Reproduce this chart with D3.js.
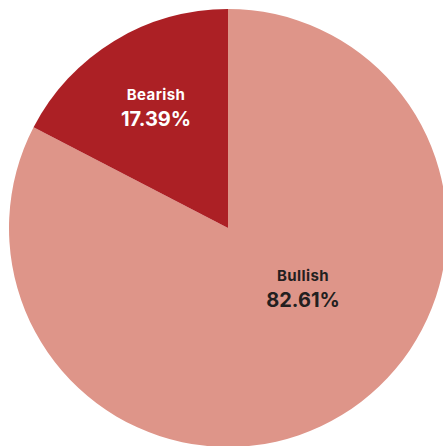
<!DOCTYPE html>
<html>
<head>
<meta charset="utf-8">
<script src="https://cdn.jsdelivr.net/npm/d3@7"></script>
<style>
  html, body { margin: 0; padding: 0; background: #fff; }
  svg { display: block; }
</style>
</head>
<body>
<svg id="chart" width="443" height="446"></svg>
<script>
// Sentiment split
const categories = ["Bullish", "Bearish"];
const values = [82.61, 17.39];
const colors = ["#DE9589", "#AC2025"];
const textColors = ["#231f20", "#ffffff"];

const svg = d3.select("#chart");
const cx = 228, cy = 228, radius = 219;

const pie = d3.pie().sort(null).value(d => d.value);
const arcs = pie(categories.map((c, i) => ({ name: c, value: values[i], i })));
const arc = d3.arc().innerRadius(0).outerRadius(radius);

const g = svg.append("g").attr("transform", `translate(${cx},${cy})`);

g.selectAll("path")
  .data(arcs)
  .join("path")
  .attr("d", arc)
  .attr("fill", d => colors[d.data.i]);

// label anchor offsets from the pie centre
const labelOffsets = [[75, 53], [-72, -128]];

const labels = g.selectAll("g.label")
  .data(arcs)
  .join("g")
  .attr("class", "label")
  .attr("transform", d => `translate(${labelOffsets[d.data.i][0]},${labelOffsets[d.data.i][1]})`)
  .attr("fill", d => textColors[d.data.i])
  .attr("font-family", "Inter, 'Open Sans', sans-serif")
  .attr("font-weight", 700)
  .attr("text-anchor", "middle");

labels.append("text")
  .attr("font-size", 15)
  .attr("letter-spacing", 0.4)
  .text(d => d.data.name);

labels.append("text")
  .attr("y", 25.5)
  .attr("font-size", 20)
  .text(d => d3.format(".2f")(d.data.value) + "%");
</script>
</body>
</html>
